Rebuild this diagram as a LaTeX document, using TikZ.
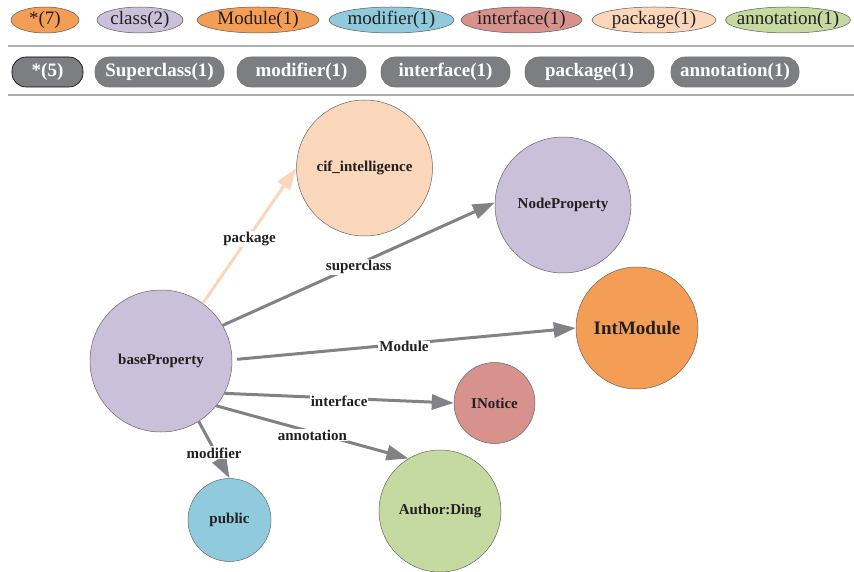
\documentclass[tikz,border=0pt]{standalone}
\usepackage{fontspec}
\setmainfont{Liberation Serif}
\usetikzlibrary{arrows.meta, shapes.geometric}

\definecolor{orangeA}{RGB}{244,157,84}
\definecolor{lavender}{RGB}{202,192,218}
\definecolor{skyblue}{RGB}{143,203,220}
\definecolor{rose}{RGB}{215,146,142}
\definecolor{peach}{RGB}{250,215,186}
\definecolor{sage}{RGB}{197,218,160}
\definecolor{pillgray}{RGB}{125,126,130}
\definecolor{edgegray}{RGB}{130,130,134}
\definecolor{rulegray}{RGB}{175,175,175}
\definecolor{inkdark}{RGB}{35,31,32}

\begin{document}
\begin{tikzpicture}[
    x=1pt, y=-1pt,
    tag/.style={ellipse, draw=black!65, line width=0.5pt, inner sep=0pt, minimum height=26pt},
    tagtext/.style={font=\fontsize{19}{19}\selectfont, text=inkdark},
    pill/.style={rectangle, rounded corners=14pt, draw=black!55, line width=0.6pt, fill=pillgray, text=white, font=\bfseries\fontsize{19}{19}\selectfont, minimum height=30pt, inner sep=0pt},
    class/.style={circle, draw=black!60, line width=0.5pt, inner sep=0pt, font=\bfseries\fontsize{15}{15}\selectfont, text=inkdark},
    edge/.style={draw=edgegray, line width=3pt, -{Triangle[length=22pt,width=15pt]}},
    elabel/.style={fill=white, inner sep=1pt, yshift=-3pt, font=\bfseries\fontsize{15}{15}\selectfont, text=inkdark},
    rule/.style={draw=rulegray, line width=1.5pt}
  ]
  \useasboundingbox (0,0) rectangle (854,572);

  % legend of node kinds
  \node[tag, minimum width=68pt, fill=orangeA, label={[tagtext]center:*(7)}] (tagall) at (45,20) {};
  \node[tag, minimum width=86pt, fill=lavender, label={[tagtext]center:class(2)}] (tagclass) at (140,20) {};
  \node[tag, minimum width=122pt, fill=orangeA, label={[tagtext]center:Module(1)}] (tagmodule) at (258,20) {};
  \node[tag, minimum width=125pt, fill=skyblue, label={[tagtext]center:modifier(1)}] (tagmodifier) at (391.5,20) {};
  \node[tag, minimum width=121pt, fill=rose, label={[tagtext]center:interface(1)}] (taginterface) at (521.5,20) {};
  \node[tag, minimum width=124pt, fill=peach, label={[tagtext]center:package(1)}] (tagpackage) at (654,20) {};
  \node[tag, minimum width=125pt, fill=sage, label={[tagtext]center:annotation(1)}] (tagannotation) at (788,20) {};

  \draw[rule] (8,46) -- (854,46);

  % legend of relations
  \node[pill, minimum width=71pt, draw=black] (relall) at (47.5,72) {*(5)};
  \node[pill, minimum width=129pt] (relsuper) at (159.5,72) {Superclass(1)};
  \node[pill, minimum width=129pt] (relmodifier) at (301.5,72) {modifier(1)};
  \node[pill, minimum width=129pt] (relinterface) at (445.5,72) {interface(1)};
  \node[pill, minimum width=129pt] (relpackage) at (589.5,72) {package(1)};
  \node[pill, minimum width=128pt] (relannotation) at (735,72) {annotation(1)};

  \draw[rule] (8,95) -- (854,95);

  % graph
  \node[class, minimum size=142pt, fill=lavender] (base) at (161,361) {baseProperty};
  \node[class, minimum size=136pt, fill=peach] (cif) at (364.5,168) {cif\_intelligence};
  \node[class, minimum size=136pt, fill=lavender] (nodeprop) at (563,205) {NodeProperty};
  \node[class, minimum size=122pt, fill=orangeA, font=\bfseries\fontsize{19}{19}\selectfont] (intmod) at (637,328) {IntModule};
  \node[class, minimum size=81pt, fill=rose] (inotice) at (494.5,403) {INotice};
  \node[class, minimum size=83pt, fill=skyblue] (public) at (229.5,520) {public};
  \node[class, minimum size=122pt, fill=sage] (author) at (440,511) {Author:Ding};

  \draw[edge, draw=peach] (base.54) -- node[elabel] {package} (cif.180);
  \draw[edge] (base.30) -- node[elabel] {superclass} (nodeprop.178);
  \draw[edge, shorten <=5pt] (base.1) -- node[elabel] {Module} (intmod.180);
  \draw[edge] (base.-27) -- node[elabel] {interface} (inotice.180);
  \draw[edge] (base.-39) -- node[elabel] {annotation} (author.121);
  \draw[edge] (base.-58) -- node[elabel] {modifier} (public.90);
\end{tikzpicture}
\end{document}
